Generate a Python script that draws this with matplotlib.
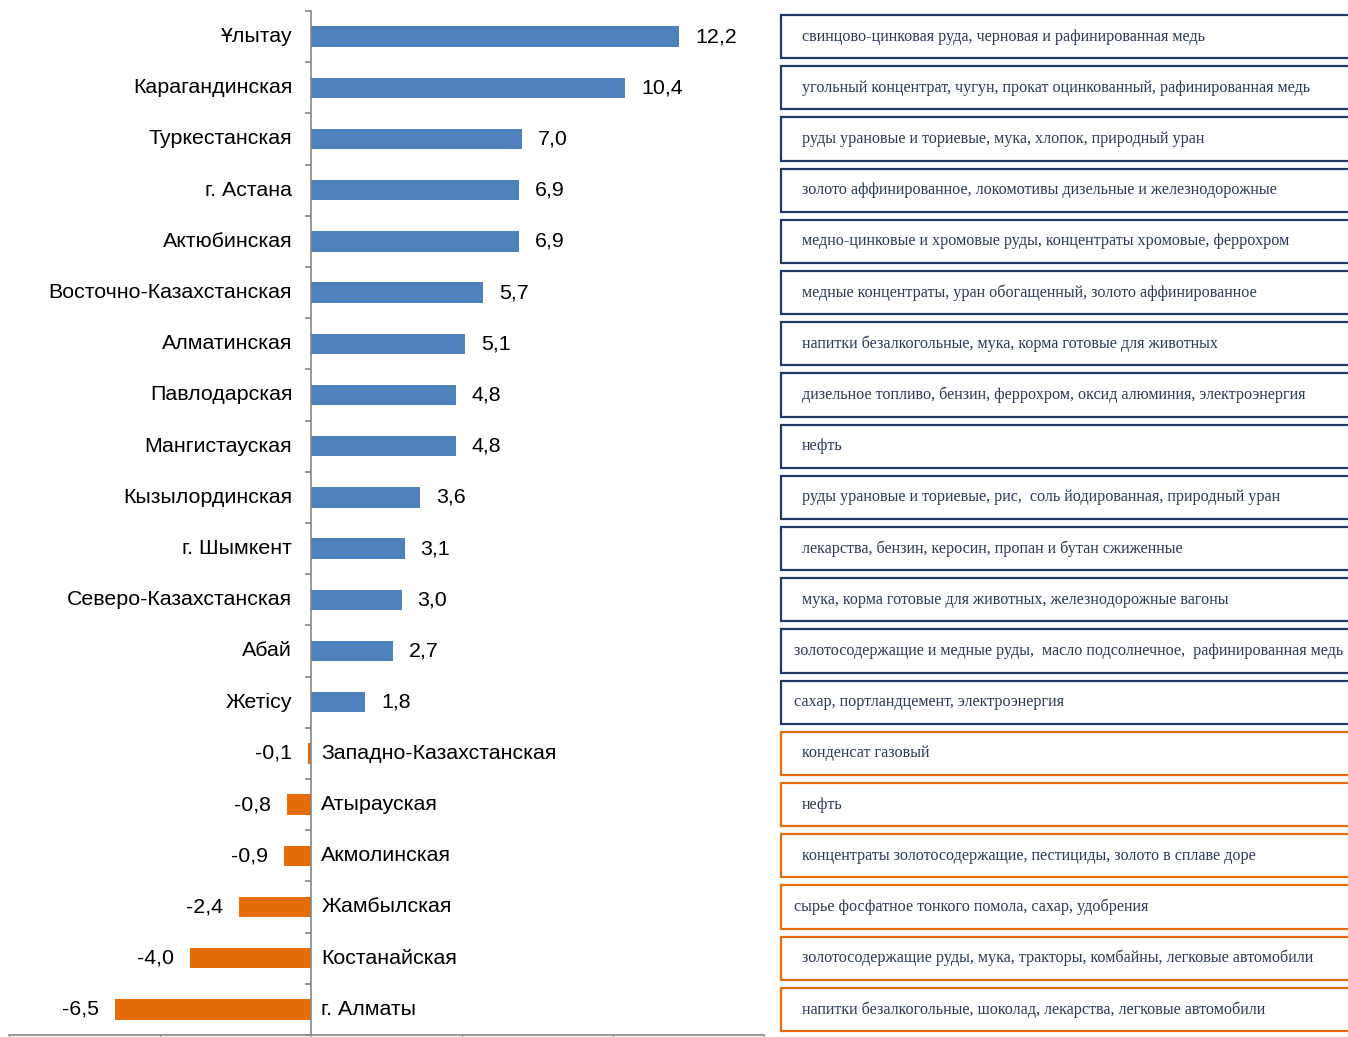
import numpy as np
import matplotlib
matplotlib.use("Agg")
from matplotlib import pyplot as plt
from matplotlib import transforms as mtransforms
from matplotlib.patches import Rectangle

# Regions, top to bottom
regions = [
    'Ұлытау', 'Карагандинская', 'Туркестанская', 'г. Астана', 'Актюбинская',
    'Восточно-Казахстанская', 'Алматинская', 'Павлодарская', 'Мангистауская',
    'Кызылординская', 'г. Шымкент', 'Северо-Казахстанская', 'Абай', 'Жетісу',
    'Западно-Казахстанская', 'Атырауская', 'Акмолинская', 'Жамбылская',
    'Костанайская', 'г. Алматы',
]
values = [12.2, 10.4, 7.0, 6.9, 6.9, 5.7, 5.1, 4.8, 4.8, 3.6, 3.1, 3.0, 2.7, 1.8,
          -0.1, -0.8, -0.9, -2.4, -4.0, -6.5]
notes = [
    'свинцово-цинковая руда, черновая и рафинированная медь',
    'угольный концентрат, чугун, прокат оцинкованный, рафинированная медь',
    'руды урановые и ториевые, мука, хлопок, природный уран',
    'золото аффинированное, локомотивы дизельные и железнодорожные',
    'медно-цинковые и хромовые руды, концентраты хромовые, феррохром',
    'медные концентраты, уран обогащенный, золото аффинированное',
    'напитки безалкогольные, мука, корма готовые для животных',
    'дизельное топливо, бензин, феррохром, оксид алюминия, электроэнергия',
    'нефть',
    'руды урановые и ториевые, рис,  соль йодированная, природный уран',
    'лекарства, бензин, керосин, пропан и бутан сжиженные',
    'мука, корма готовые для животных, железнодорожные вагоны',
    'золотосодержащие и медные руды,  масло подсолнечное,  рафинированная медь',
    'сахар, портландцемент, электроэнергия',
    'конденсат газовый',
    'нефть',
    'концентраты золотосодержащие, пестициды, золото в сплаве доре',
    'сырье фосфатное тонкого помола, сахар, удобрения',
    'золотосодержащие руды, мука, тракторы, комбайны, легковые автомобили',
    'напитки безалкогольные, шоколад, лекарства, легковые автомобили',
]

BLUE = '#4F81BD'
ORANGE = '#E46C0A'
NAVY = '#1F3864'
GREY = '#868686'
TEXT_NOTE = '#2B3A57'

W, H = 1348, 1037
fig = plt.figure(figsize=(W / 100, H / 100), dpi=100)
ax = fig.add_axes([9 / W, 2 / H, (764 - 9) / W, (1035 - 11) / H])

y = np.arange(len(regions))
colors = [BLUE if v >= 0 else ORANGE for v in values]
ax.barh(y, values, height=0.4, color=colors)

ax.set_xlim(-10, 15)
ax.set_ylim(len(regions) - 0.5, -0.5)

for s in ['top', 'right']:
    ax.spines[s].set_visible(False)
ax.spines['left'].set_position(('data', 0))
for s in ['left', 'bottom']:
    ax.spines[s].set_color(GREY)
    ax.spines[s].set_linewidth(1.2)

ax.set_xticks(np.arange(-10, 16, 5))
ax.tick_params(axis='x', direction='out', length=5, color=GREY, labelbottom=False)
ax.set_yticks(np.arange(-0.5, len(regions), 1.0))
ax.tick_params(axis='y', direction='out', length=4.5, color=GREY, width=1.2, labelleft=False)

lab_font = dict(family='Liberation Sans', fontsize=15.4, color='black')
for i, (name, v) in enumerate(zip(regions, values)):
    val = f"{v:.1f}".replace('.', ',')
    if v >= 0:
        ax.annotate(name, (0, i), xytext=(-13.5, 0), textcoords='offset points',
                    ha='right', va='center', **lab_font)
        ax.annotate(val, (v, i), xytext=(11.5, 0), textcoords='offset points',
                    ha='left', va='center', **lab_font)
    else:
        ax.annotate(name, (0, i), xytext=(7.5, 0), textcoords='offset points',
                    ha='left', va='center', **lab_font)
        ax.annotate(val, (v, i), xytext=(-11.5, 0), textcoords='offset points',
                    ha='right', va='center', **lab_font)

# Commodity boxes on the right
trans = mtransforms.blended_transform_factory(fig.transFigure, ax.transData)
box_left = 781 / W
box_width = (1360 - 781) / W
wide_rows = {12, 13, 17}
for i, (note, v) in enumerate(zip(notes, values)):
    edge = NAVY if v >= 0 else ORANGE
    ax.add_patch(Rectangle((box_left, i - 0.42), box_width, 0.84, transform=trans,
                           facecolor='white', edgecolor=edge, linewidth=1.6, clip_on=False))
    tx = 794 / W if i in wide_rows else 802 / W
    ax.text(tx, i, note, transform=trans, ha='left', va='center',
            family='Liberation Serif', fontsize=11.6, color=TEXT_NOTE)

fig.savefig('out.png', dpi=100)
plt.close(fig)
